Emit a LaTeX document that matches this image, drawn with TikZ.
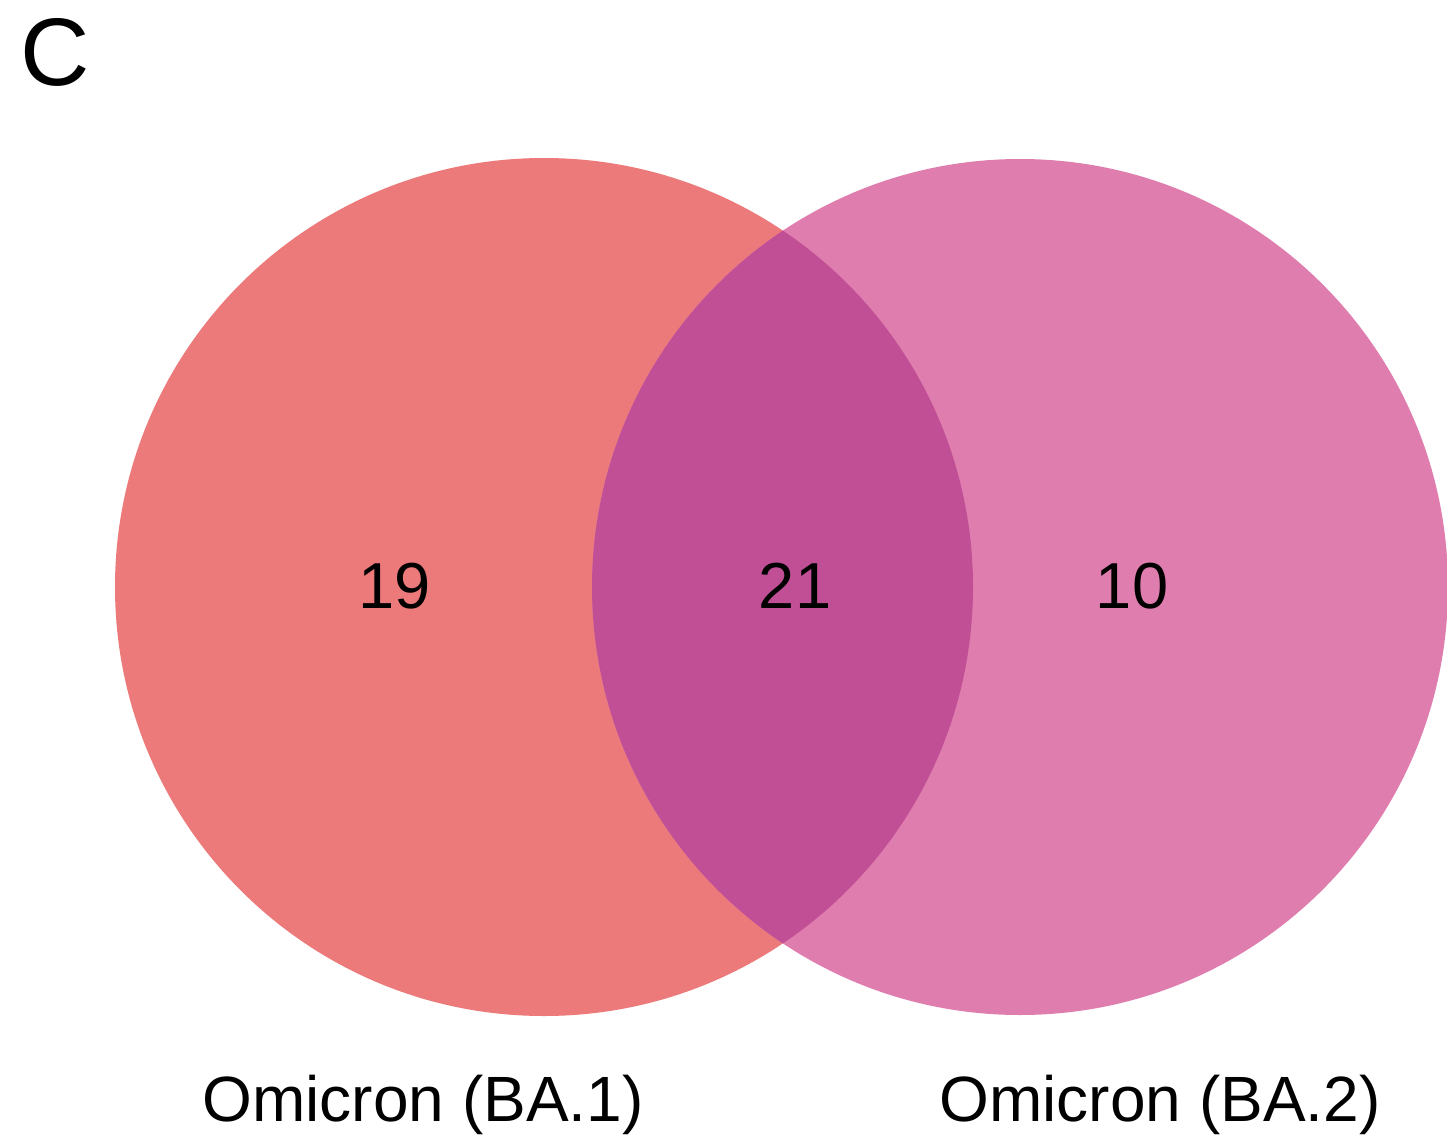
\documentclass[tikz,border=0pt]{standalone}
\usepackage{fontspec}
\setmainfont{Liberation Sans}
\definecolor{setA}{RGB}{236,122,122}
\definecolor{setB}{RGB}{224,125,175}
\definecolor{setAB}{RGB}{192,79,150}
\begin{document}
\begin{tikzpicture}[x=1pt,y=-1pt,
  count/.style={font=\fontsize{65}{65}\selectfont,anchor=base,inner sep=0pt},
  setlabel/.style={font=\fontsize{64}{64}\selectfont,anchor=base,inner sep=0pt}]
\useasboundingbox (0,0) rectangle (1447,1137);
% the two sets
\fill[setA] (544,587) circle (429);
\fill[setB] (1020,587) circle (428);
% their intersection
\begin{scope}
  \clip (544,587) circle (429);
  \fill[setAB] (1020,587) circle (428);
\end{scope}
% panel letter
\node[font=\fontsize{96}{96}\selectfont,anchor=base,inner sep=0pt] (panel) at (55,86) {C};
% region counts
\node[count] (onlyA) at (395,608) {19};
\node[count] (both)  at (795,608) {21};
\node[count] (onlyB) at (1132,608) {10};
% set names
\node[setlabel] (nameA) at (423,1121) {Omicron (BA.1)};
\node[setlabel] (nameB) at (1160,1121) {Omicron (BA.2)};
\end{tikzpicture}
\end{document}
